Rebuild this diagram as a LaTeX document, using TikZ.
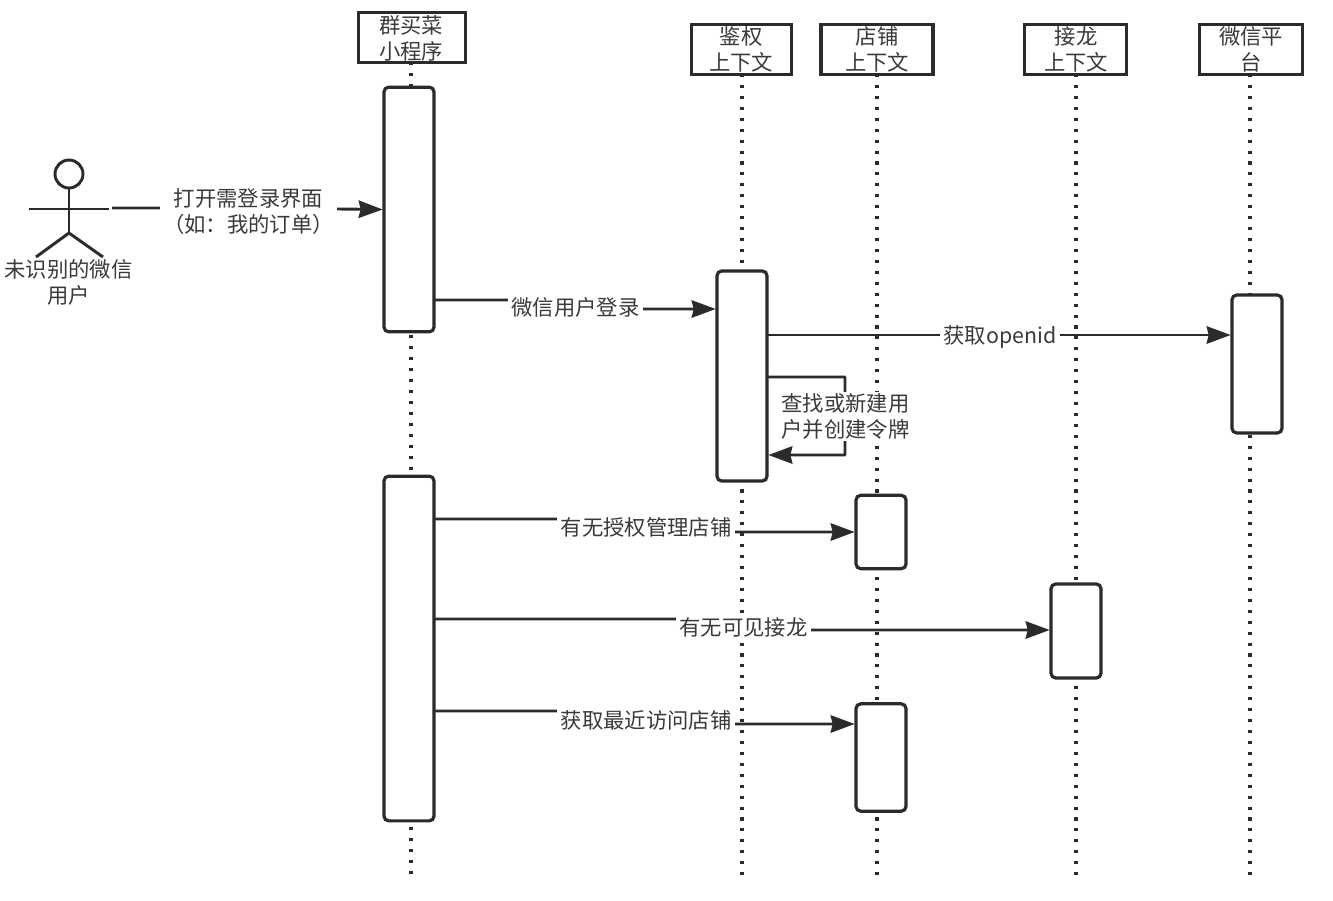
\documentclass[tikz,border=0pt]{standalone}
\usepackage{fontspec}
\setmainfont{Noto Sans CJK SC}
\usetikzlibrary{arrows.meta}
\definecolor{ink}{HTML}{2B2B2B}
\definecolor{txt}{HTML}{3A3A3A}
\tikzset{
  x=0.75pt,y=-0.75pt,
  every node/.style={font=\fontsize{16}{19.5}\selectfont,text=txt,align=center,inner sep=0pt,outer sep=0pt},
  head/.style={draw=ink,line width=2.3pt,fill=white,minimum height=37.5pt},
  activ/.style={draw=ink,line width=2.4pt,fill=white,rounded corners=3.5pt,minimum width=37.5pt},
  life/.style={draw=ink,line width=2.4pt,dash pattern=on 2.3pt off 5.9pt},
  conn/.style={draw=ink,line width=2.2pt,rounded corners=0.5pt},
  arr/.style={conn,shorten >=1pt,-{Stealth[length=18pt,width=13pt,inset=1.5pt]}},
  lab/.style={fill=white,inner xsep=2.5pt,inner ysep=1pt},
  stick/.style={draw=ink,line width=2.2pt}
}
\begin{document}
\begin{tikzpicture}
\useasboundingbox (0,0) rectangle (1333,900);
\fill[white] (0,0) rectangle (1333,900);
% lifeline ends
\coordinate (endA) at (411,878);
\coordinate (endB) at (742,880);
\coordinate (endC) at (877,880);
\coordinate (endD) at (1076,880);
\coordinate (endE) at (1250,880);
% headers
\node[head,minimum width=80.5pt] (hA) at (412,37.3) {};
\node[head,minimum width=74.5pt] (hB) at (741.5,49.5) {};
\node[head,minimum width=84pt] (hC) at (877,49.5) {};
\node[head,minimum width=77pt] (hD) at (1075.5,49.5) {};
\node[head,minimum width=77pt] (hE) at (1251,49.5) {};
% lifelines
\draw[life] (411,62) -- (endA);
\draw[life] (742,74) -- (endB);
\draw[life] (877,74) -- (endC);
\draw[life] (1076,74) -- (endD);
\draw[life] (1250,74) -- (endE);
% header text
\node at (411,38) {群买菜\\小程序};
\node at (741,49) {鉴权\\上下文};
\node at (877,49) {店铺\\上下文};
\node at (1076,49) {接龙\\上下文};
\node at (1251,49) {微信平\\台};
% activations
\node[activ,minimum height=183.5pt] (a1) at (409,209.5) {};
\node[activ,minimum height=258.5pt] (a2) at (409,648.5) {};
\node[activ,minimum height=157.5pt] (b1) at (742,376) {};
\node[activ,minimum height=103.5pt] (w1) at (1257,364) {};
\node[activ,minimum height=55pt] (s1) at (881,532) {};
\node[activ,minimum height=80.5pt] (s2) at (881,757.5) {};
\node[activ,minimum height=70.5pt] (j1) at (1076,631) {};
% actor
\node[draw=ink,line width=2.2pt,circle,minimum size=21pt,fill=white] (actHead) at (69,174) {};
\coordinate (hip) at (69,233);
\coordinate (armL) at (29,209);
\coordinate (armR) at (109,209);
\coordinate (legL) at (36,257);
\coordinate (legR) at (103,257);
\draw[stick] (actHead.south) -- (hip);
\draw[stick] (armL) -- (armR);
\draw[stick] (legL) -- (hip) -- (legR);
\node (actLabel) at (68.5,282) {未识别的微信\\用户};
% connectors
\coordinate (actR) at (112,208);
\draw[arr] (actR) -- (248,208) -- (a1.west |- 0,209.5);
\node[lab] (l1) at (248.5,211.5) {打开需登录界面\\（如：我的订单）};
\draw[arr] (a1.east |- 0,300) -- (575,300) -- (575,309) -- (b1.west |- 0,309);
\node[lab] (l2) at (575.5,307.5) {微信用户登录};
\draw[arr] (b1.east |- 0,335) -- (w1.west |- 0,335);
\node[lab] (l3) at (1000,337) {获取openid};
\draw[arr] (b1.east |- 0,377) -- (845,377) -- (845,455) -- (b1.east |- 0,455);
\node[lab] (l4) at (845.5,416.5) {查找或新建用\\户并创建令牌};
\draw[arr] (a2.east |- 0,519) -- (645,519) -- (645,532) -- (s1.west |- 0,532);
\node[lab] (l5) at (646,527.5) {有无授权管理店铺};
\draw[arr] (a2.east |- 0,619) -- (743,619) -- (743,630) -- (j1.west |- 0,630);
\node[lab] (l6) at (743.5,627.5) {有无可见接龙};
\draw[arr] (a2.east |- 0,711) -- (645,711) -- (645,724) -- (s2.west |- 0,724);
\node[lab] (l7) at (646,720.5) {获取最近访问店铺};
\end{tikzpicture}
\end{document}
